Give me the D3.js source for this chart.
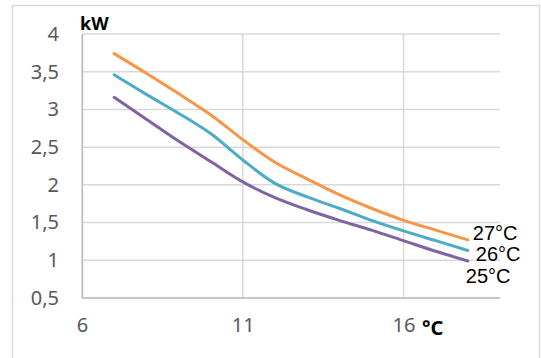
<!DOCTYPE html>
<html>
<head>
<meta charset="utf-8">
<script src="https://cdn.jsdelivr.net/npm/d3@7"></script>
<style>
  body { margin: 0; background: #fff; }
  text { font-family: 'Noto Sans', sans-serif; }
</style>
</head>
<body>
<script>

// outdoor temperature (°C)
var temps = [7, 8, 9, 10, 11, 12, 13, 14, 15, 16, 17, 18];

// power (kW) per room temperature
var kw27 = [3.74, 3.48, 3.21, 2.93, 2.60, 2.30, 2.08, 1.87, 1.69, 1.53, 1.40, 1.27];
var kw26 = [3.46, 3.20, 2.95, 2.68, 2.33, 2.02, 1.84, 1.69, 1.53, 1.39, 1.26, 1.13];
var kw25 = [3.16, 2.87, 2.58, 2.31, 2.04, 1.83, 1.67, 1.53, 1.40, 1.26, 1.12, 0.99];

var seriesNames = ['27°C', '26°C', '25°C'];

var xTicks = [6, 11, 16];
var yTicks = [0.5, 1, 1.5, 2, 2.5, 3, 3.5, 4];

var series = [
    {name: seriesNames[0], values: kw27, color: '#f79646', dx: 5, dy: 0},
    {name: seriesNames[1], values: kw26, color: '#4bacc6', dx: 8, dy: 11},
    {name: seriesNames[2], values: kw25, color: '#8064a2', dx: -2, dy: 22}
];

var width = 541,
    height = 358;

var margin = {top: 34, left: 82, right: 41, bottom: 60};
var w = width - margin.left - margin.right,
    h = height - margin.top - margin.bottom;

var x = d3.scaleLinear().domain([6, 19]).range([0, w]);
var y = d3.scaleLinear().domain([0.5, 4]).range([h, 0]);

var svg = d3.select('body').append('svg')
    .attr('width', width)
    .attr('height', height);

// chart border
svg.append('rect')
    .attr('x', 12.5)
    .attr('y', 5.5)
    .attr('width', 527)
    .attr('height', 362)
    .attr('fill', 'none')
    .attr('stroke', '#d9d9d9')
    .attr('stroke-width', 1.5);

var focus = svg.append('g')
    .attr('transform', 'translate(' + margin.left + ',' + margin.top + ')');

// gridlines
focus.append('g')
    .selectAll('line')
    .data(yTicks)
    .enter().append('line')
    .attr('x1', 0)
    .attr('x2', w)
    .attr('y1', function(d) { return y(d); })
    .attr('y2', function(d) { return y(d); })
    .attr('stroke', '#d9d9d9')
    .attr('stroke-width', 1.5);

focus.append('g')
    .selectAll('line')
    .data(xTicks)
    .enter().append('line')
    .attr('x1', function(d) { return x(d); })
    .attr('x2', function(d) { return x(d); })
    .attr('y1', 0)
    .attr('y2', h)
    .attr('stroke', '#d9d9d9')
    .attr('stroke-width', 1.5);

// axes
var yAxis = d3.axisLeft(y)
    .tickValues(yTicks)
    .tickSize(0)
    .tickPadding(23)
    .tickFormat(function(d) { return String(d).replace('.', ','); });

var xAxis = d3.axisBottom(x)
    .tickValues(xTicks)
    .tickSize(0)
    .tickPadding(20);

var gy = focus.append('g').call(yAxis);
var gx = focus.append('g').attr('transform', 'translate(0,' + h + ')').call(xAxis);

[gx, gy].forEach(function(g) {
    g.select('.domain').attr('stroke', '#bfbfbf').attr('stroke-width', 1.5);
    g.selectAll('text')
        .attr('fill', '#595959')
        .style('font-size', '20px')
        .style('font-family', "'Noto Sans', sans-serif");
});
gx.select('.domain').attr('d', 'M0,0H' + w);

// axis units
svg.append('text')
    .attr('x', 80)
    .attr('y', 30)
    .attr('font-weight', 'bold')
    .attr('font-size', '18px')
    .text('kW');

svg.append('text')
    .attr('x', 422)
    .attr('y', 335)
    .attr('font-weight', 'bold')
    .attr('font-size', '20px')
    .text('°C');

// lines
var line = d3.line()
    .x(function(d, i) { return x(temps[i]); })
    .y(function(d) { return y(d); })
    .curve(d3.curveCatmullRom.alpha(0.5));

focus.append('g')
    .selectAll('path')
    .data(series)
    .enter().append('path')
    .attr('d', function(d) { return line(d.values); })
    .attr('fill', 'none')
    .attr('stroke', function(d) { return d.color; })
    .attr('stroke-width', 3)
    .attr('stroke-linecap', 'round');

// end labels
focus.append('g')
    .selectAll('text')
    .data(series)
    .enter().append('text')
    .attr('x', function(d) { return x(temps[temps.length - 1]) + d.dx; })
    .attr('y', function(d) { return y(d.values[d.values.length - 1]) + d.dy; })
    .style('font-family', "'Liberation Sans', Arial, sans-serif")
    .attr('font-size', '20px')
    .attr('fill', '#000')
    .text(function(d) { return d.name; });

</script>
</body>
</html>
